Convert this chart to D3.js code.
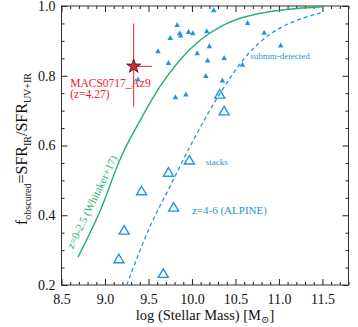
<!DOCTYPE html>
<html lang="en">
<head>
<meta charset="UTF-8">
<title>Obscured SFR fraction vs stellar mass</title>
<script src="https://cdn.jsdelivr.net/npm/d3@7"></script>
<style>
  html, body { margin: 0; padding: 0; background: #fff; }
  svg { display: block; font-family: "Liberation Serif", "DejaVu Serif", serif; }
</style>
</head>
<body>
<svg id="chart" width="358" height="327"></svg>
<script>
// submm-detected ALPINE galaxies (small filled triangles)
const submmMass = [10.25, 9.83, 9.75, 9.86, 9.87, 9.96, 10.01, 10.17, 9.61, 10.20, 10.06, 9.73,
                   10.18, 10.37, 9.38, 10.16, 10.35, 9.81, 9.93, 10.64, 10.83, 11.02, 10.58];
const submmFrac = [0.989, 0.947, 0.910, 0.923, 0.917, 0.927, 0.923, 0.929, 0.872, 0.886, 0.866, 0.838,
                   0.845, 0.852, 0.791, 0.801, 0.788, 0.740, 0.748, 0.953, 0.925, 0.888, 0.833];

// stacks (large open triangles)
const stackMass = [10.32, 10.37, 9.97, 9.73, 9.42, 9.79, 9.22, 9.16, 9.67];
const stackFrac = [0.748, 0.700, 0.559, 0.524, 0.471, 0.424, 0.358, 0.276, 0.234];

// z=0-2.5 relation (Whitaker+17)
const whitakerMass = [8.69, 8.94, 9.19, 9.40, 9.635, 9.865, 10.10, 10.33, 10.52, 10.83, 11.21, 11.5];
const whitakerFrac = [0.280, 0.410, 0.570, 0.670, 0.770, 0.846, 0.903, 0.941, 0.962, 0.981, 0.993, 0.998];

// z=4-6 (ALPINE) relation, dashed
const alpineMass = [9.25, 9.52, 9.75, 9.98, 10.21, 10.40, 10.59, 10.80, 11.00, 11.25, 11.48];
const alpineFrac = [0.200, 0.369, 0.484, 0.598, 0.703, 0.779, 0.846, 0.900, 0.935, 0.963, 0.980];

// MACS0717_Az9
const macsMass = 9.33;
const macsFrac = 0.827;
const macsMassRange = [9.30, 9.54];
const macsFracRange = [0.711, 0.950];

const xTicks = [8.5, 9.0, 9.5, 10.0, 10.5, 11.0, 11.5];
const yTicks = [0.2, 0.4, 0.6, 0.8, 1.0];

const blue = "#2394d6";
const green = "#1fb36e";
const red = "#e8202c";

const svg = d3.select("#chart");
const margin = {left: 61.5, right: 9.5, top: 6, bottom: 42};
const W = 358, H = 327;

const x = d3.scaleLinear().domain([8.5, 11.8]).range([margin.left, W - margin.right]);
const y = d3.scaleLinear().domain([0.2, 1.0]).range([H - margin.bottom, margin.top]);

const xMinor = d3.range(85, 119).map(v => v / 10).filter(v => Math.abs(v * 2 - Math.round(v * 2)) > 1e-6);
const yMinor = d3.range(4, 21).map(v => v / 20).filter(v => Math.abs(v * 5 - Math.round(v * 5)) > 1e-6);

// clip region
svg.append("defs").append("clipPath").attr("id", "clip")
  .append("rect")
  .attr("x", x(8.5)).attr("y", y(1.0))
  .attr("width", x(11.8) - x(8.5)).attr("height", y(0.2) - y(1.0));

function drawAxis(axis, transform) {
  const g = svg.append("g").attr("transform", transform).call(axis);
  g.select(".domain").remove();
  g.selectAll("line").attr("stroke", "#222").attr("stroke-width", 1);
  g.selectAll("text").attr("fill", "#111").attr("font-size", 14).attr("font-family", "Liberation Serif, serif");
  return g;
}

const f1 = d3.format(".1f");
const major = 6, minor = 3;
// bottom
drawAxis(d3.axisBottom(x).tickValues(xTicks).tickSize(-major).tickPadding(9).tickFormat(f1), `translate(0,${y(0.2)})`);
drawAxis(d3.axisBottom(x).tickValues(xMinor).tickSize(-minor).tickFormat(""), `translate(0,${y(0.2)})`);
// top
drawAxis(d3.axisTop(x).tickValues(xTicks).tickSize(-major).tickFormat(""), `translate(0,${y(1.0)})`);
drawAxis(d3.axisTop(x).tickValues(xMinor).tickSize(-minor).tickFormat(""), `translate(0,${y(1.0)})`);
// left
drawAxis(d3.axisLeft(y).tickValues(yTicks).tickSize(-major).tickPadding(6).tickFormat(f1), `translate(${x(8.5)},0)`);
drawAxis(d3.axisLeft(y).tickValues(yMinor).tickSize(-minor).tickFormat(""), `translate(${x(8.5)},0)`);
// right
drawAxis(d3.axisRight(y).tickValues(yTicks).tickSize(-major).tickFormat(""), `translate(${x(11.8)},0)`);
drawAxis(d3.axisRight(y).tickValues(yMinor).tickSize(-minor).tickFormat(""), `translate(${x(11.8)},0)`);

// frame
svg.append("rect")
  .attr("x", x(8.5)).attr("y", y(1.0))
  .attr("width", x(11.8) - x(8.5)).attr("height", y(0.2) - y(1.0))
  .attr("fill", "none").attr("stroke", "#333").attr("stroke-width", 1);

const plot = svg.append("g").attr("clip-path", "url(#clip)");

const line = d3.line().x(d => x(d[0])).y(d => y(d[1])).curve(d3.curveMonotoneX);

plot.append("path")
  .datum(d3.zip(whitakerMass, whitakerFrac))
  .attr("d", line)
  .attr("fill", "none").attr("stroke", green).attr("stroke-width", 1.4);

plot.append("path")
  .datum(d3.zip(alpineMass, alpineFrac))
  .attr("d", line)
  .attr("fill", "none").attr("stroke", blue).attr("stroke-width", 1.3)
  .attr("stroke-dasharray", "4,3");

function tri(w, h) {
  return `M0,${-h / 2}L${w / 2},${h / 2}L${-w / 2},${h / 2}Z`;
}

plot.selectAll("path.submm")
  .data(d3.zip(submmMass, submmFrac))
  .join("path")
  .attr("class", "submm")
  .attr("d", tri(5.5, 5))
  .attr("transform", d => `translate(${x(d[0])},${y(d[1])})`)
  .attr("fill", blue);

plot.selectAll("path.stack")
  .data(d3.zip(stackMass, stackFrac))
  .join("path")
  .attr("class", "stack")
  .attr("d", tri(10, 8.5))
  .attr("transform", d => `translate(${x(d[0])},${y(d[1])})`)
  .attr("fill", "none").attr("stroke", blue).attr("stroke-width", 1.4);

// MACS0717_Az9 with error bars
plot.append("line")
  .attr("x1", x(macsMass)).attr("x2", x(macsMass))
  .attr("y1", y(macsFracRange[0])).attr("y2", y(macsFracRange[1]))
  .attr("stroke", red).attr("stroke-width", 1);
plot.append("line")
  .attr("x1", x(macsMassRange[0])).attr("x2", x(macsMassRange[1]))
  .attr("y1", y(macsFrac)).attr("y2", y(macsFrac))
  .attr("stroke", red).attr("stroke-width", 1);
plot.append("path")
  .attr("d", d3.symbol(d3.symbolStar, 62)())
  .attr("transform", `translate(${x(macsMass)},${y(macsFrac)})`)
  .attr("fill", red).attr("stroke", "#222").attr("stroke-width", 0.8);

// annotations
const ann = svg.append("g");
ann.append("text").attr("x", x(8.6)).attr("y", y(0.768))
  .attr("font-size", 11.5).attr("fill", red).text("MACS0717_Az9");
ann.append("text").attr("x", x(8.6)).attr("y", y(0.737))
  .attr("font-size", 11.5).attr("fill", red).text("(z=4.27)");

ann.append("text").attr("x", x(10.67)).attr("y", y(0.847))
  .attr("font-size", 9).attr("fill", blue).text("submm-detected");
ann.append("text").attr("x", x(10.16)).attr("y", y(0.545))
  .attr("font-size", 9).attr("fill", blue).text("stacks");
ann.append("text").attr("x", x(10.0)).attr("y", y(0.403))
  .attr("font-size", 11).attr("fill", blue).text("z=4-6 (ALPINE)");

ann.append("text")
  .attr("transform", `translate(${x(8.7) - 6},${y(0.29) - 4}) rotate(-64)`)
  .attr("font-size", 11).attr("fill", green)
  .text("z=0-2.5 (Whitaker+17)");

// axis titles
const xt = svg.append("text")
  .attr("x", (x(8.5) + x(11.8)) / 2).attr("y", 320)
  .attr("text-anchor", "middle").attr("font-size", 14.5).attr("fill", "#111");
xt.append("tspan").text("log (Stellar Mass) [M");
xt.append("tspan").attr("font-size", 10).attr("dy", 3).text("\u2299");
xt.append("tspan").attr("dy", -3).text("]");

const yt = svg.append("text")
  .attr("transform", `translate(27,${y(0.59)}) rotate(-90)`)
  .attr("text-anchor", "middle").attr("font-size", 16).attr("fill", "#111");
yt.append("tspan").text("f");
yt.append("tspan").attr("font-size", 10).attr("dy", 4).text("obscured");
yt.append("tspan").attr("dy", -4).text("=SFR");
yt.append("tspan").attr("font-size", 10).attr("dy", 4).text("IR");
yt.append("tspan").attr("dy", -4).text("/SFR");
yt.append("tspan").attr("font-size", 10).attr("dy", 4).text("UV+IR");
</script>
</body>
</html>
